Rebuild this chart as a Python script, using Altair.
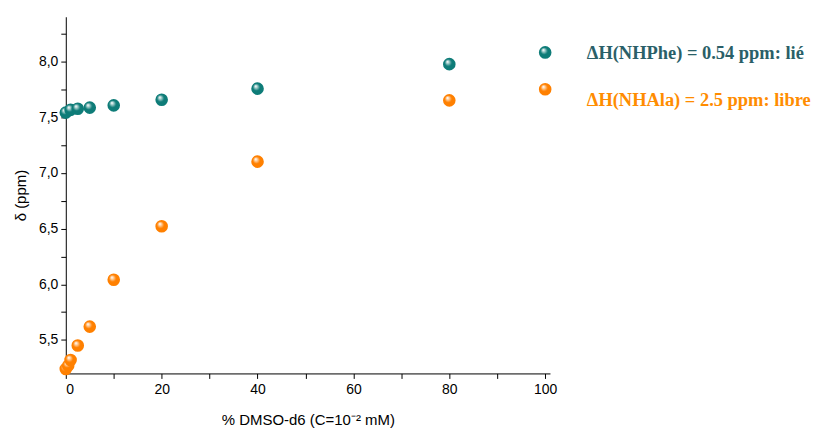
import altair as alt
import pandas as pd

dmso = [0, 1, 2.5, 5, 10, 20, 40, 80, 100]
nhphe = [7.54, 7.565, 7.575, 7.585, 7.605, 7.655, 7.755, 7.975, 8.08]
dmso_ala = [0, 0.5, 1, 2.5, 5, 10, 20, 40, 80, 100]
nhala = [5.24, 5.27, 5.32, 5.45, 5.62, 6.04, 6.52, 7.10, 7.65, 7.75]

labels = ["ΔH(NHPhe) = 0.54 ppm: lié", "ΔH(NHAla) = 2.5 ppm: libre"]
y_ticks = [5.25, 5.5, 5.75, 6.0, 6.25, 6.5, 6.75, 7.0, 7.25, 7.5, 7.75, 8.0, 8.25]
x_ticks = [0, 10, 20, 30, 40, 50, 60, 70, 80, 90, 100]

teal = "#0e7c78"
orange = "#ff8000"

df = pd.DataFrame({
    "x": dmso + dmso_ala,
    "y": nhphe + nhala,
    "s": ["phe"] * len(dmso) + ["ala"] * len(dmso_ala),
})

xscale = alt.Scale(domain=[0, 101], nice=False)
yscale = alt.Scale(domain=[5.2, 8.4], nice=False)

xaxis = alt.Axis(values=x_ticks,
                 labelExpr="datum.value % 20 == 0 ? datum.label : ''",
                 labelOverlap=False,
                 grid=False, tickSize=5, tickColor="black", domainColor="black",
                 labelFont="Liberation Sans", labelFontSize=14, labelColor="black",
                 titleFont="Liberation Sans", titleFontSize=15, titleFontWeight="normal",
                 titleColor="black", titlePadding=16, labelPadding=4)
yaxis = alt.Axis(values=y_ticks, format=".2f",
                 labelExpr="slice(datum.label, 3) == '5' ? '' : replace(slice(datum.label, 0, 3), '.', ',')",
                 labelOverlap=False,
                 grid=False, tickSize=5, tickColor="black", domainColor="black",
                 labelFont="Liberation Sans", labelFontSize=14, labelColor="black",
                 titleFont="Liberation Sans", titleFontSize=15, titleFontWeight="normal",
                 titleColor="black", titlePadding=10, labelPadding=3)


def grad(c):
    return alt.Gradient(gradient="radial", x1=0.35, y1=0.3, r1=0.02, x2=0.5, y2=0.5, r2=0.6,
                        stops=[alt.GradientStop(color="white", offset=0),
                               alt.GradientStop(color=c, offset=0.45),
                               alt.GradientStop(color=c, offset=1)])


base = alt.Chart(df).encode(
    x=alt.X("x:Q", scale=xscale, axis=xaxis, title="% DMSO-d6 (C=10⁻² mM)"),
    y=alt.Y("y:Q", scale=yscale, axis=yaxis, title="δ (ppm)"),
)

phe = base.transform_filter("datum.s == 'phe'").mark_point(
    filled=True, shape="circle", size=160, opacity=1, fill=grad(teal), clip=False)
ala = base.transform_filter("datum.s == 'ala'").mark_point(
    filled=True, shape="circle", size=160, opacity=1, fill=grad(orange), clip=False)

t1 = alt.Chart(pd.DataFrame({"t": [labels[0]]})).mark_text(
    align="left", baseline="middle", font="Liberation Serif", fontSize=18.5,
    fontWeight="bold", color="#2a5f68").encode(
    text="t:N", x=alt.value(523), y=alt.value(36))
t2 = alt.Chart(pd.DataFrame({"t": [labels[1]]})).mark_text(
    align="left", baseline="middle", font="Liberation Serif", fontSize=18.5,
    fontWeight="bold", color="#ff8c00").encode(
    text="t:N", x=alt.value(523), y=alt.value(84))

chart = alt.layer(phe, ala, t1, t2).properties(
    width=486, height=358,
    padding={"left": 5, "top": 8, "right": 0, "bottom": 5},
).configure(background="white").configure_view(stroke=None)

chart.save("out.html", embed_options={"renderer": "svg", "actions": False})
